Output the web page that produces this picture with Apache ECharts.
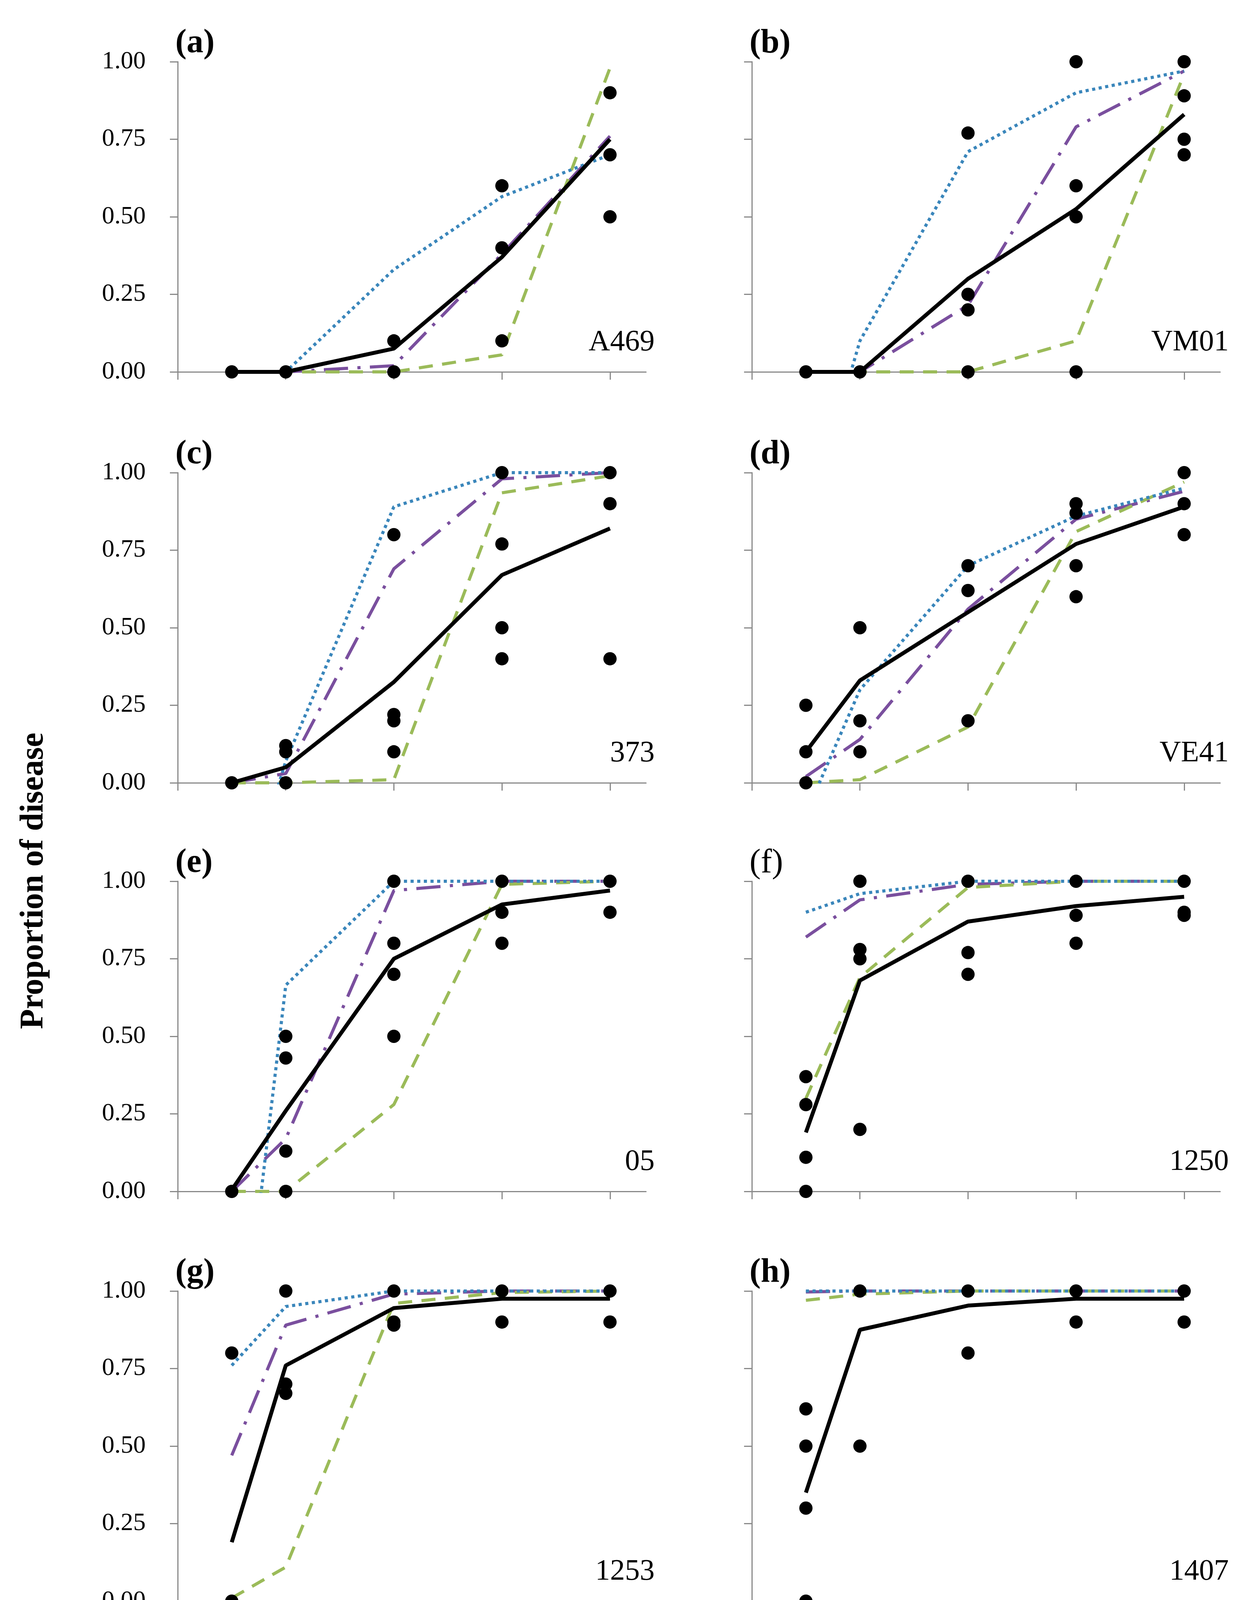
<!DOCTYPE html>
<html>
<head>
<meta charset="utf-8">
<script src="https://cdn.jsdelivr.net/npm/echarts@6/dist/echarts.min.js"></script>
<style>
  html, body { margin: 0; padding: 0; background: #fff; }
  #chart { width: 3226px; height: 4941px; }
</style>
</head>
<body>
<div id="chart"></div>
<script>
// sampling days and axis ticks
var days = [30, 60, 120, 180, 240];
var xTicks = [0, 60, 120, 180, 240];
var panelTags = ['(a)', '(b)', '(c)', '(d)', '(e)', '(f)', '(g)', '(h)'];
var strains = ['A469', 'VM01', '373', 'VE41', '05', '1250', '1253', '1407'];

// observed replicates, one list per sampling day
var obsA = [[0], [0], [0.1, 0], [0.6, 0.4, 0.1], [0.9, 0.7, 0.5]];
var obsB = [[0], [0], [0.77, 0.25, 0.2, 0], [1, 0.6, 0.5, 0], [1, 0.89, 0.75, 0.7]];
var obsC = [[0], [0.12, 0.1, 0], [0.8, 0.22, 0.2, 0.1], [1, 0.77, 0.5, 0.4], [1, 0.9, 0.4]];
var obsD = [[0.25, 0.1, 0], [0.5, 0.2, 0.1], [0.7, 0.62, 0.2], [0.9, 0.87, 0.7, 0.6], [1, 0.9, 0.8]];
var obsE = [[0], [0.5, 0.43, 0.13, 0], [1, 0.8, 0.7, 0.5], [1, 0.9, 0.8], [1, 0.9]];
var obsF = [[0.37, 0.28, 0.11, 0], [1, 0.78, 0.75, 0.2], [1, 0.77, 0.7], [1, 0.89, 0.8], [1, 0.9, 0.89]];
var obsG = [[0.8, 0], [1, 0.7, 0.67], [1, 0.9, 0.89], [1, 0.9], [1, 0.9]];
var obsH = [[0.62, 0.5, 0.3, 0], [1, 0.5], [1, 0.8], [1, 0.9], [1, 0.9]];

// average observed ratio
var avgA = [0, 0, 0.075, 0.37, 0.75];
var avgB = [0, 0, 0.3, 0.525, 0.83];
var avgC = [0, 0.05, 0.325, 0.67, 0.82];
var avgD = [0.1, 0.33, 0.55, 0.77, 0.89];
var avgE = [0.005, 0.26, 0.75, 0.925, 0.97];
var avgF = [0.19, 0.68, 0.87, 0.92, 0.95];
var avgG = [0.19, 0.76, 0.945, 0.975, 0.975];
var avgH = [0.35, 0.875, 0.953, 0.975, 0.975];

// Gompertz
var gomA = [0, 0, 0.02, 0.38, 0.76];
var gomB = [0, 0, 0.215, 0.79, 0.97];
var gomC = [0, 0.03, 0.69, 0.98, 1];
var gomD = [0.02, 0.14, 0.56, 0.85, 0.94];
var gomE = [0, 0.17, 0.97, 1, 1];
var gomF = [0.82, 0.94, 0.99, 1, 1];
var gomG = [0.47, 0.89, 0.99, 1, 1];
var gomH = [0.997, 1, 1, 1, 1];

// logistic
var logA = [0, 0, 0, 0.055, 0.98];
var logB = [0, 0, 0, 0.1, 0.96];
var logC = [0, 0, 0.01, 0.935, 0.99];
var logD = [0, 0.01, 0.18, 0.81, 0.97];
var logE = [0, 0, 0.28, 0.99, 1];
var logF = [0.3, 0.69, 0.98, 1, 1];
var logG = [0.01, 0.11, 0.96, 0.995, 1];
var logH = [0.97, 0.99, 1, 1, 1];

// monomolecular (negative early values fall below the axis and are clipped)
var monoA = [-0.3, 0, 0.33, 0.565, 0.7];
var monoB = [-0.5, 0.1, 0.71, 0.9, 0.97];
var monoC = [-0.5, 0.07, 0.89, 1, 1];
var monoD = [-0.1, 0.3, 0.7, 0.86, 0.95];
var monoE = [-0.8, 0.665, 1, 1, 1];
var monoF = [0.9, 0.96, 1, 1, 1];
var monoG = [0.76, 0.95, 1, 1, 1];
var monoH = [1, 1, 1, 1, 1];

var observed = [obsA, obsB, obsC, obsD, obsE, obsF, obsG, obsH];
var averages = [avgA, avgB, avgC, avgD, avgE, avgF, avgG, avgH];
var gompertz = [gomA, gomB, gomC, gomD, gomE, gomF, gomG, gomH];
var logistic = [logA, logB, logC, logD, logE, logF, logG, logH];
var monomol = [monoA, monoB, monoC, monoD, monoE, monoF, monoG, monoH];

var font = 'Liberation Serif';
var axisGray = '#8a8a8a';
var cPurple = '#7a4f9e';
var cGreen = '#9bbb59';
var cBlue = '#3a86bb';

var colLeft = [455, 1925];
var rowTop = [158, 1210, 2256, 3305];
var plotW = 1199, plotH = 794;

var chart = echarts.init(document.getElementById('chart'));

function pairs(vals) {
  return days.map(function (d, k) { return [d, vals[k]]; });
}

var grids = [], xAxes = [], yAxes = [], series = [], texts = [];

for (var i = 0; i < 8; i++) {
  var c = i % 2, r = Math.floor(i / 2);
  grids.push({ left: colLeft[c], top: rowTop[r], width: plotW, height: plotH });
  xAxes.push({
    gridIndex: i, type: 'value', min: 0, max: 260, interval: 60,
    axisLine: { lineStyle: { color: axisGray, width: 3 } },
    axisTick: { length: 20, customValues: xTicks, lineStyle: { color: axisGray, width: 3 } },
    axisLabel: { show: r === 3, customValues: xTicks, margin: 46, fontSize: 62, fontFamily: font, color: '#000' },
    splitLine: { show: false }
  });
  yAxes.push({
    gridIndex: i, type: 'value', min: 0, max: 1, interval: 0.25,
    axisLine: { show: true, lineStyle: { color: axisGray, width: 3 } },
    axisTick: { show: true, length: 20, lineStyle: { color: axisGray, width: 3 } },
    axisLabel: {
      show: c === 0, margin: 82, fontSize: 64, fontFamily: font, color: '#000',
      formatter: function (v) { return v.toFixed(2); }
    },
    splitLine: { show: false }
  });

  series.push({
    name: 'Proportion Gompertz', type: 'line', xAxisIndex: i, yAxisIndex: i,
    data: pairs(gompertz[i]), symbol: 'none', z: 2,
    itemStyle: { color: cPurple },
    lineStyle: { color: cPurple, width: 8, type: [62, 24, 8, 24] }
  });
  series.push({
    name: 'Proportion Logistic', type: 'line', xAxisIndex: i, yAxisIndex: i,
    data: pairs(logistic[i]), symbol: 'none', z: 2,
    itemStyle: { color: cGreen },
    lineStyle: { color: cGreen, width: 8, type: [36, 24] }
  });
  series.push({
    name: 'Proportion Monomolecular', type: 'line', xAxisIndex: i, yAxisIndex: i,
    data: pairs(monomol[i]), symbol: 'none', z: 2,
    itemStyle: { color: cBlue },
    lineStyle: { color: cBlue, width: 8, type: [8, 9] }
  });
  series.push({
    name: 'Average Observed Ratio', type: 'line', xAxisIndex: i, yAxisIndex: i,
    data: pairs(averages[i]), symbol: 'none', z: 3,
    itemStyle: { color: '#000' },
    lineStyle: { color: '#000', width: 10 }
  });
  var pts = [];
  observed[i].forEach(function (list, k) {
    list.forEach(function (v) { pts.push([days[k], v]); });
  });
  series.push({
    name: 'Observed Data', type: 'scatter', xAxisIndex: i, yAxisIndex: i,
    data: pts, symbol: 'circle', symbolSize: 34, z: 4,
    itemStyle: { color: '#000', opacity: 1 }
  });

  texts.push({
    type: 'text', x: colLeft[c] - 6, y: rowTop[r] - 46,
    style: {
      text: panelTags[i], fontSize: 86, fontFamily: font,
      fontWeight: i === 5 ? 'normal' : 'bold', fill: '#000',
      align: 'left', verticalAlign: 'middle'
    }
  });
  texts.push({
    type: 'text', x: colLeft[c] + plotW + 22, y: rowTop[r] + plotH - 75,
    style: {
      text: strains[i], fontSize: 76, fontFamily: font, fill: '#000',
      align: 'right', verticalAlign: 'middle'
    }
  });
}

texts.push({
  type: 'text', x: 87, y: 2255, rotation: Math.PI / 2,
  style: {
    text: 'Proportion of disease', fontSize: 84, fontWeight: 'bold', fontFamily: font,
    fill: '#000', align: 'center', verticalAlign: 'middle'
  }
});
texts.push({
  type: 'text', x: 1785, y: 4372,
  style: {
    text: 'Days after planting', fontSize: 84, fontWeight: 'bold', fontFamily: font,
    fill: '#000', align: 'center', verticalAlign: 'middle'
  }
});

var legendText = { fontSize: 90, fontFamily: font, color: '#000', lineHeight: 100 };
function legendItem(name, left, centerY, w, textPad, extra) {
  var l = {
    data: [name], left: left, top: centerY - 50, padding: 0,
    itemWidth: w, itemHeight: 32, selectedMode: false,
    textStyle: Object.assign({}, legendText, { padding: [0, 0, 0, textPad] })
  };
  return Object.assign(l, extra || {});
}

var option = {
  animation: false,
  backgroundColor: '#fff',
  grid: grids,
  xAxis: xAxes,
  yAxis: yAxes,
  series: series,
  graphic: texts,
  legend: [
    legendItem('Observed Data', 337, 4609, 146, 96, { itemStyle: { opacity: 1 } }),
    legendItem('Average Observed Ratio', 337, 4764, 185, 62,
      { lineStyle: { width: 12 }, itemStyle: { opacity: 0 } }),
    legendItem('Proportion Gompertz', 1912, 4562, 200, 48,
      { lineStyle: { width: 11, type: [90, 30, 12, 30] }, itemStyle: { opacity: 0 } }),
    legendItem('Proportion Logistic', 1925, 4712, 202, 36,
      { lineStyle: { width: 11, type: [47, 30] }, itemStyle: { opacity: 0 } }),
    legendItem('Proportion Monomolecular', 1930, 4852, 195, 44,
      { lineStyle: { width: 11, type: [9, 14] }, itemStyle: { opacity: 0 } })
  ]
};

chart.setOption(option);
</script>
</body>
</html>
